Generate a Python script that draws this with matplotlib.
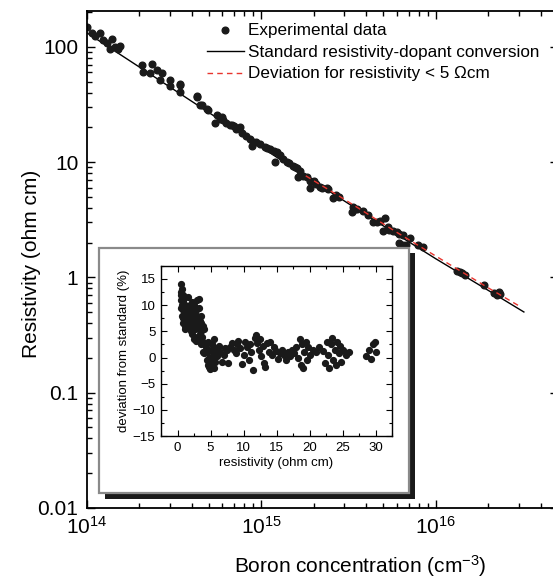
import matplotlib
matplotlib.use("Agg")
import matplotlib.pyplot as plt
from matplotlib.patches import Rectangle
from matplotlib.ticker import FixedLocator, NullFormatter, MultipleLocator
import numpy as np

plt.rcParams['font.family'] = ['Liberation Sans', 'DejaVu Sans']
plt.rcParams['mathtext.default'] = 'regular'

# main plot: boron concentration (cm^-3) vs resistivity (ohm cm)
exp_conc = [1.0e14, 1.07e14, 1.12e14, 1.19e14, 1.24e14, 1.30e14, 1.39e14, 1.36e14,
            1.45e14, 1.55e14, 1.52e14, 2.07e14, 2.11e14, 2.36e14, 2.31e14, 2.52e14,
            2.69e14, 2.63e14, 3.0e14, 3.0e14, 3.42e14, 3.42e14, 3.42e14, 4.27e14,
            4.27e14, 4.46e14, 4.56e14, 4.87e14, 4.97e14, 5.56e14, 5.44e14, 5.93e14,
            6.06e14, 6.62e14, 7.0e14, 7.55e14, 7.75e14, 8.2e14, 8.6e14, 8.82e14,
            9.3e14, 9.87e14, 1.05e15, 1.12e15, 1.18e15, 1.23e15, 1.2e15, 1.34e15,
            1.40e15, 1.52e15, 1.6e15, 1.67e15, 1.63e15, 1.74e15, 1.82e15, 1.9e15,
            1.9e15, 2.05e15, 2.16e15, 2.22e15, 2.38e15, 2.42e15, 2.59e15, 2.8e15,
            3.37e15, 3.3e15, 3.55e15, 3.85e15, 4.37e15, 4.8e15, 5.14e15, 5.0e15,
            5.4e15, 5.7e15, 6.2e15, 6.2e15, 6.5e15, 6.5e15, 6.8e15, 7.1e15,
            7.96e15, 8.4e15, 1.33e16, 1.38e16, 1.42e16, 1.47e16, 1.9e16, 2.16e16,
            2.3e16, 2.35e16, 2.25e16,
            5.8e14, 6.3e14, 6.8e14, 7.2e14, 9.0e14, 1.08e15, 1.28e15, 1.45e15,
            1.57e15, 2.0e15, 2.7e15, 3.45e15, 4.1e15, 4.6e15, 5.3e15, 6.0e15]
exp_rho = [150, 132, 125, 132, 115, 108, 117, 95,
           100, 102, 96, 70, 61, 71, 59, 63,
           59, 51.5, 51.5, 45.6, 48, 40.7, 46.6, 36.8,
           37.3, 31.2, 31.2, 29.1, 28.2, 25.4, 21.8, 24.6,
           23, 20.8, 20.6, 20.1, 17.8, 17.0, 15.9, 13.7,
           14.8, 14.4, 13.6, 13.0, 12.6, 12.2, 10, 10.7,
           10.0, 9.3, 8.9, 8.4, 7.4, 7.6, 7.4, 6.9,
           6.0, 6.5, 6.1, 6.0, 6.0, 5.9, 4.9, 5.0,
           4.1, 3.7, 3.9, 3.75, 3.0, 3.1, 3.3, 2.5,
           2.6, 2.5, 2.4, 2.0, 2.35, 1.9, 1.9, 2.2,
           1.9, 1.85, 1.14, 1.11, 1.09, 1.05, 0.85, 0.73,
           0.75, 0.71, 0.70,
           23.5, 22.0, 21.0, 19.5, 15.0, 13.3, 11.6, 9.8,
           9.0, 6.8, 5.2, 3.9, 3.45, 3.05, 2.75, 2.45]

std_conc = [1e14, 2e14, 5e14, 1e15, 2e15, 5e15, 1e16, 2e16, 3.2e16]
std_rho = [133, 67, 27, 13.5, 6.8, 2.8, 1.45, 0.77, 0.50]

dev_conc = [1.8e15, 3e15, 6e15, 1e16, 2e16, 3e16]
dev_rho = [7.6, 4.75, 2.45, 1.53, 0.81, 0.565]

# inset: deviation from standard (%) vs resistivity (ohm cm)
ins_rho = [0.5, 0.5, 0.6, 0.6, 0.7, 0.7, 0.8, 0.8, 0.8, 0.9, 0.9, 1.0, 1.0, 1.0, 1.1, 1.1,
           1.2, 1.2, 1.3, 1.3, 0.6, 0.7, 0.9, 1.0, 1.2,
           1.6, 1.7, 1.8, 1.8, 1.9, 2.0, 2.0, 2.1, 2.2, 2.3, 2.4, 2.5, 2.5, 2.6, 2.7, 2.8,
           2.9, 3.0, 3.0, 3.1, 3.2, 3.2, 3.3, 3.4, 3.5, 3.5, 3.6, 3.7, 3.8, 3.8, 3.9, 4.0, 4.0,
           1.7, 2.0, 2.3, 2.6, 2.9, 3.3, 3.6, 2.2, 2.8, 3.4,
           4.3, 4.4, 4.5, 4.6, 4.6, 4.8, 4.9, 5.0, 5.1, 5.3, 5.4, 5.5, 5.6, 5.7, 5.8, 6.0,
           4.7, 5.2, 5.5,
           6.3, 6.5, 6.8, 7.0, 7.2, 7.5, 7.7, 8.0, 8.3, 8.5, 8.8, 9.0, 9.2, 9.5, 9.8, 10.0,
           10.2, 10.5,
           10.8, 11.0, 11.2, 11.5, 11.7, 11.9, 12.1, 12.3, 12.5, 12.7, 12.9, 13.1, 13.3, 13.5,
           13.8, 14.0, 14.3, 14.6, 14.9, 15.2, 15.5, 15.8,
           16.2, 16.5, 16.8, 17.0, 17.3, 17.6, 17.9, 18.2, 18.5, 18.7, 18.9, 19.0, 19.2, 19.4,
           19.6, 19.8, 20.0,
           20.5, 21.0, 21.5, 22.0, 22.4, 22.6, 22.8, 23.0, 23.2, 23.4, 23.6, 23.8, 24.0, 24.2,
           24.4, 24.6, 24.8, 25.0, 25.5, 26.0,
           28.5, 29.0, 29.3, 29.6, 29.9, 30.0]
ins_dev = [14.0, 12.5, 11.0, 9.5, 13.0, 8.0, 12.0, 10.5, 7.5, 9.0, 6.5, 11.5, 8.5, 7.0, 10.0, 6.0,
           9.0, 5.5, 7.5, 8.5, 12.0, 10.0, 11.0, 9.8, 7.0,
           11.5, 9.5, 8.0, 6.0, 10.0, 7.0, 5.0, 9.0, 4.5, 8.0, 6.5, 10.0, 3.5, 7.5, 5.5, 9.0,
           4.0, 11.0, 8.0, 6.0, 11.2, 3.5, 9.5, 7.0, 5.0, 2.5, 8.0, 4.0, 6.0, 1.0, 3.0, 0.8, 5.5,
           7.0, 8.5, 6.0, 9.0, 6.8, 5.5, 6.5, 10.5, 3.2, 4.5,
           2.0, -0.5, 1.0, -1.5, 3.0, 0.0, -2.2, 1.5, -1.0, 2.5, 0.5, -2.0, 3.5, -0.8, 1.8, 0.3,
           -1.8, 0.0, 1.2,
           2.2, 1.0, -0.8, 0.5, 1.8, 1.5, -1.0, 2.0, 2.8, 1.5, 0.8, 2.5, 3.2, 1.8, -1.2, 0.5,
           3.0, 2.0,
           -0.5, 2.5, 1.0, -2.3, 3.8, 4.3, 2.8, 1.5, 3.5, 0.2, 2.2, -1.0, -1.8, 2.8,
           1.0, 3.0, 0.5, 2.0, 1.2, -0.3, 0.8, 1.5,
           0.5, -0.5, 1.0, 0.2, 1.5, 0.8, 2.0, 0.0, 3.5, -1.5, 2.5, -2.0, 1.0, 3.0,
           -0.5, 2.0, 0.5,
           1.5, 1.0, 2.0, 1.2, -1.0, 3.0, 0.5, -2.0, 2.5, 3.8, -0.5, 1.5, -1.5, 3.0,
           0.8, 2.2, -0.8, 1.5, 0.5, 1.0,
           0.2, 1.5, -0.3, 2.5, 3.0, 1.0]

W, H = 553, 578
fig = plt.figure(figsize=(W / 100, H / 100), dpi=100)

def fx(px):
    return px / W

def fy(py):
    return 1 - py / H

ax = fig.add_axes([fx(86.7), fy(507.7), fx(557.7) - fx(86.7), fy(11) - fy(507.7)])
ax.set_xscale('log')
ax.set_yscale('log')
ax.set_xlim(1e14, 5e16)
ax.set_ylim(0.01, 205)

ax.plot(std_conc, std_rho, color='black', lw=1.0, zorder=2,
        label='Standard resistivity-dopant conversion')
ax.plot(dev_conc, dev_rho, color='#e8352e', lw=1.0, ls=(0, (4, 3)), zorder=3,
        label='Deviation for resistivity < 5 \u03a9cm')
ax.plot(exp_conc, exp_rho, ls='none', marker='o', ms=4.8, color='#1a1a1a', zorder=2.5,
        label='Experimental data')

ax.set_yticks([0.01, 0.1, 1, 10, 100])
ax.set_yticklabels(['0.01', '0.1', '1', '10', '100'])
ax.set_xticks([1e14, 1e15, 1e16])
ax.set_xticklabels(['$10^{14}$', '$10^{15}$', '$10^{16}$'])
ax.yaxis.set_minor_locator(FixedLocator([m * 10.0 ** e for e in range(-2, 3) for m in range(2, 10)]))
ax.xaxis.set_minor_locator(FixedLocator([m * 10.0 ** e for e in range(14, 17) for m in range(2, 10)]))
ax.xaxis.set_minor_formatter(NullFormatter())
ax.yaxis.set_minor_formatter(NullFormatter())
ax.tick_params(which='both', direction='in', top=True, right=True, labelsize=15, width=1.0, pad=6)
ax.tick_params(which='major', length=6)
ax.tick_params(which='minor', length=3.5)
for s in ax.spines.values():
    s.set_linewidth(1.3)

ax.set_xlabel('Boron concentration (cm$^{-3}$)', fontsize=15)
ax.set_ylabel('Resistivity (ohm cm)', fontsize=15)
ax.xaxis.set_label_coords(0.58, -0.092)
ax.yaxis.set_label_coords(-0.098, 0.49)

handles, labels = ax.get_legend_handles_labels()
order = [2, 0, 1]
ax.legend([handles[i] for i in order], [labels[i] for i in order],
          loc='upper left', bbox_to_anchor=(fx(206.7), fy(23.5)), bbox_transform=fig.transFigure,
          frameon=False, fontsize=12.3, numpoints=1, handlelength=2.2, handletextpad=0.2,
          labelspacing=0.38, borderpad=0, borderaxespad=0)

# inset frame with drop shadow
fig.add_artist(Rectangle((fx(105), fy(499)), fx(415) - fx(105), fy(253) - fy(499),
                         transform=fig.transFigure, facecolor='#1a1a1a', edgecolor='none', zorder=1))
fig.add_artist(Rectangle((fx(99), fy(493)), fx(409) - fx(99), fy(248) - fy(493),
                         transform=fig.transFigure, facecolor='white', edgecolor='#8a8a8a',
                         lw=1.6, zorder=1.1))

ins = fig.add_axes([fx(161), fy(436.2), fx(392) - fx(161), fy(265.7) - fy(436.2)], zorder=2)
ins.plot(ins_rho, ins_dev, ls='none', marker='o', ms=4.2, color='#1a1a1a')
ins.set_xlim(-2.5, 32.5)
ins.set_ylim(-15, 17.5)
ins.set_xticks(np.arange(0, 31, 5))
ins.set_yticks(np.arange(-15, 16, 5))
ins.xaxis.set_minor_locator(MultipleLocator(2.5))
ins.yaxis.set_minor_locator(MultipleLocator(2.5))
ins.tick_params(which='both', direction='in', top=True, right=True, labelsize=9.5, width=0.8, pad=4)
ins.tick_params(which='major', length=4)
ins.tick_params(which='minor', length=2.5)
for s in ins.spines.values():
    s.set_linewidth(1.0)
ins.set_xlabel('resistivity (ohm cm)', fontsize=9.5, labelpad=2)
ins.set_ylabel('deviation from standard (%)', fontsize=9.5, labelpad=2)

fig.savefig('out.png', dpi=100)
